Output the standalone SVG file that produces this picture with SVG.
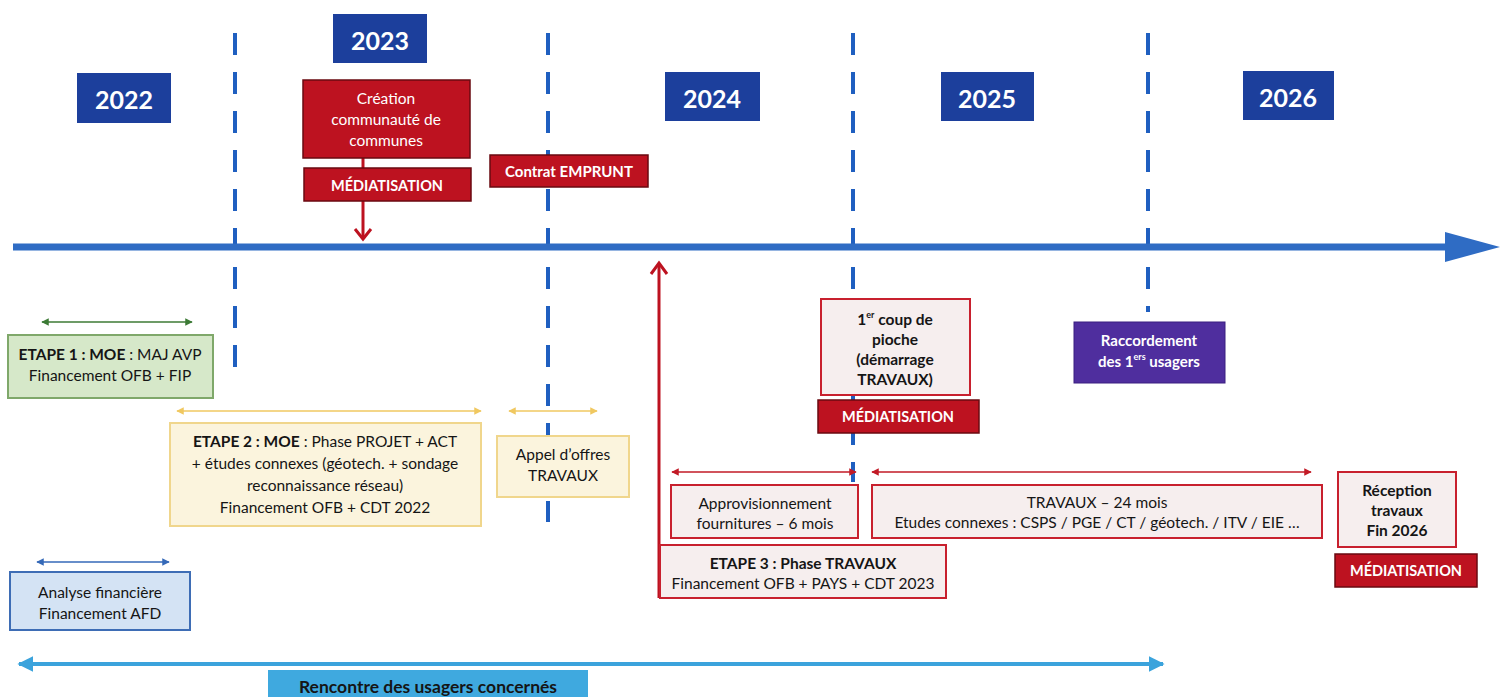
<svg xmlns="http://www.w3.org/2000/svg" width="1500" height="697" viewBox="0 0 1500 697">
<style>
text{font-family:Lato,"Open Sans","Liberation Sans",sans-serif;text-anchor:middle;dominant-baseline:central}
.yr{fill:#1c3f9c}
.yt{fill:#fff;font-size:25px;font-weight:700}
.red{fill:#bd1220;stroke:#6a0a10;stroke-width:1.5}
.wt{fill:#fff;font-size:15px;font-weight:700}
.med{font-size:14.5px}
.wn{fill:#fff;font-size:15.5px}
.pink{fill:#f6eeee;stroke:#c8202e;stroke-width:2}
.t{fill:#151515;font-size:15.5px}
.b{font-weight:700}
.dash{stroke:#1f5fc0;stroke-width:4;stroke-dasharray:22 17;fill:none}
</style>
<defs>
<marker id="mr" viewBox="0 0 10 10" refX="9" refY="5" markerWidth="5" markerHeight="5" orient="auto-start-reverse"><path d="M0,0L10,5L0,10z" fill="#c21a26"/></marker>
<marker id="mg" viewBox="0 0 10 10" refX="9" refY="5" markerWidth="5" markerHeight="5" orient="auto-start-reverse"><path d="M0,0L10,5L0,10z" fill="#3c7a35"/></marker>
<marker id="my" viewBox="0 0 10 10" refX="9" refY="5" markerWidth="5" markerHeight="5" orient="auto-start-reverse"><path d="M0,0L10,5L0,10z" fill="#f0c860"/></marker>
<marker id="mb" viewBox="0 0 10 10" refX="9" refY="5" markerWidth="5" markerHeight="5" orient="auto-start-reverse"><path d="M0,0L10,5L0,10z" fill="#3569b8"/></marker>
<marker id="mc" viewBox="0 0 10 10" refX="9" refY="5" markerWidth="4" markerHeight="4" orient="auto-start-reverse"><path d="M0,0L10,5L0,10z" fill="#3ba3dc"/></marker>
</defs>
<rect width="1500" height="697" fill="#fff"/>

<g id="gridlines">
<line class="dash" x1="235" y1="33" x2="235" y2="368"/>
<line class="dash" x1="548" y1="33" x2="548" y2="522"/>
<line class="dash" x1="853" y1="33" x2="853" y2="482"/>
<line class="dash" x1="1148" y1="33" x2="1148" y2="312"/>
</g>

<g id="axis">
<line x1="13" y1="247" x2="1450" y2="247" stroke="#2f6cc4" stroke-width="7"/>
<path d="M1445,232L1500,247L1445,262z" fill="#2f6cc4"/>
</g>

<g id="connectors" fill="none">
<line x1="363" y1="158" x2="363" y2="168" stroke="#bd1220" stroke-width="3"/>
<line x1="363" y1="201" x2="363" y2="239" stroke="#bd1220" stroke-width="3"/>
<path d="M355,229L363,239L371,229" stroke="#bd1220" stroke-width="3"/>
<line x1="659" y1="598" x2="659" y2="264" stroke="#bd1220" stroke-width="3"/>
<path d="M651,274L659,263L667,274" stroke="#bd1220" stroke-width="3"/>
<line x1="42" y1="322" x2="192" y2="322" stroke="#3c7a35" stroke-width="1.5" marker-start="url(#mg)" marker-end="url(#mg)"/>
<line x1="177" y1="411" x2="481" y2="411" stroke="#f0c860" stroke-width="1.5" marker-start="url(#my)" marker-end="url(#my)"/>
<line x1="509" y1="411" x2="597" y2="411" stroke="#f0c860" stroke-width="1.5" marker-start="url(#my)" marker-end="url(#my)"/>
<line x1="672" y1="472" x2="856" y2="472" stroke="#c21a26" stroke-width="1.5" marker-start="url(#mr)" marker-end="url(#mr)"/>
<line x1="872" y1="472" x2="1311" y2="472" stroke="#c21a26" stroke-width="1.5" marker-start="url(#mr)" marker-end="url(#mr)"/>
<line x1="37" y1="562" x2="169" y2="562" stroke="#3569b8" stroke-width="1.5" marker-start="url(#mb)" marker-end="url(#mb)"/>
<line x1="19" y1="664" x2="1163" y2="664" stroke="#3ba3dc" stroke-width="4" marker-start="url(#mc)" marker-end="url(#mc)"/>
</g>

<g id="y2022"><rect class="yr" x="77" y="73" width="94" height="50"/><text class="yt" x="124" y="99">2022</text></g>
<g id="y2023"><rect class="yr" x="333" y="14" width="94" height="49"/><text class="yt" x="380" y="40">2023</text></g>
<g id="y2024"><rect class="yr" x="665" y="72" width="95" height="49"/><text class="yt" x="712" y="98">2024</text></g>
<g id="y2025"><rect class="yr" x="941" y="72" width="93" height="49"/><text class="yt" x="987" y="98">2025</text></g>
<g id="y2026"><rect class="yr" x="1243" y="71" width="91" height="49"/><text class="yt" x="1288" y="97">2026</text></g>

<g id="creation"><rect class="red" x="303" y="80" width="167" height="78"/>
<text class="wn" x="386" y="98">Création</text><text class="wn" x="386" y="119">communauté de</text><text class="wn" x="386" y="140">communes</text></g>
<g id="media1"><rect class="red" x="304" y="168" width="167" height="33"/><text class="wt med" x="387" y="185">MÉDIATISATION</text></g>
<g id="emprunt"><rect class="red" x="490" y="155" width="158" height="32"/><text class="wt" x="569" y="171">Contrat EMPRUNT</text></g>

<g id="pioche"><rect class="pink" x="821" y="299" width="149" height="96"/>
<text class="t b" x="895" y="319">1<tspan font-size="9" dy="-5">er</tspan><tspan dy="5"> coup de</tspan></text>
<text class="t b" x="895" y="339">pioche</text><text class="t b" x="895" y="359">(démarrage</text><text class="t b" x="895" y="379">TRAVAUX)</text></g>
<g id="media2"><rect class="red" x="818" y="400" width="161" height="33"/><text class="wt med" x="898" y="416">MÉDIATISATION</text></g>

<g id="raccordement"><rect x="1074" y="322" width="151" height="61" fill="#4f2e9e" stroke="#3a1f80" stroke-width="1"/>
<text class="wt" x="1149" y="340">Raccordement</text>
<text class="wt" x="1149" y="361">des 1<tspan font-size="9" dy="-5">ers</tspan><tspan dy="5"> usagers</tspan></text></g>

<g id="etape1"><rect x="8" y="335" width="205" height="63" fill="#d6e8c9" stroke="#7fa86a" stroke-width="2"/>
<text class="t" x="110" y="354"><tspan class="b">ETAPE 1 : MOE</tspan> : MAJ AVP</text>
<text class="t" x="110" y="375">Financement OFB + FIP</text></g>

<g id="etape2"><rect x="170" y="423" width="311" height="103" fill="#fbf4dd" stroke="#f0d68c" stroke-width="2"/>
<text class="t" x="325" y="441"><tspan class="b">ETAPE 2 : MOE</tspan> : Phase PROJET + ACT</text>
<text class="t" x="325" y="463">+ études connexes (géotech. + sondage</text>
<text class="t" x="325" y="485">reconnaissance réseau)</text>
<text class="t" x="325" y="507">Financement OFB + CDT 2022</text></g>

<g id="appel"><rect x="497" y="436" width="132" height="61" fill="#fbf4dd" stroke="#f0d68c" stroke-width="2"/>
<text class="t" x="563" y="454">Appel d’offres</text><text class="t" x="563" y="475">TRAVAUX</text></g>

<g id="appro"><rect class="pink" x="671" y="485" width="187" height="53"/>
<text class="t" x="765" y="503">Approvisionnement</text><text class="t" x="765" y="523">fournitures – 6 mois</text></g>

<g id="travaux"><rect class="pink" x="872" y="485" width="450" height="53"/>
<text class="t" x="1097" y="502">TRAVAUX – 24 mois</text>
<text class="t" x="1097" y="522">Etudes connexes : CSPS / PGE / CT / géotech. / ITV / EIE …</text></g>

<g id="etape3"><rect class="pink" x="660" y="545" width="286" height="53"/>
<text class="t b" x="803" y="563">ETAPE 3 : Phase TRAVAUX</text>
<text class="t" x="803" y="583">Financement OFB + PAYS + CDT 2023</text></g>

<g id="reception"><rect class="pink" x="1338" y="472" width="118" height="75"/>
<text class="t b" x="1397" y="490">Réception</text><text class="t b" x="1397" y="510">travaux</text><text class="t b" x="1397" y="530">Fin 2026</text></g>
<g id="media3"><rect class="red" x="1335" y="554" width="142" height="33"/><text class="wt med" x="1406" y="570">MÉDIATISATION</text></g>

<g id="analyse"><rect x="10" y="572" width="180" height="58" fill="#d4e3f4" stroke="#3e6db5" stroke-width="2"/>
<text class="t" x="100" y="592">Analyse financière</text><text class="t" x="100" y="613">Financement AFD</text></g>

<g id="rencontre"><rect x="268" y="670" width="320" height="30" fill="#3fa9df"/>
<text class="t b" x="428" y="686" style="font-size:17.5px">Rencontre des usagers concernés</text></g>
</svg>
